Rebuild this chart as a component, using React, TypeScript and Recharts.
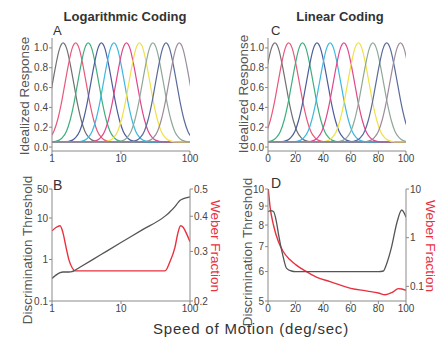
import React from 'react';
import { LineChart, Line, XAxis, YAxis } from 'recharts';

// tuning curve peaks (deg/sec)
const logCenters = [1.45, 2.2, 3.35, 5.2, 7.9, 12, 18.5, 29, 45, 70];
const linCenters = [5, 15, 25, 35.5, 45, 55, 65.5, 76, 86, 96];
const curveColors = [
  '#707070', '#e8587c', '#3fae7e', '#4d5c9c', '#3cb8e0',
  '#e0478c', '#f0e04a', '#8fa898', '#5a6a9c', '#9c8c9c',
];
// one tuning curve, offsets in widths from its peak
const profileOffsets = [-30, -3.5, -2.8, -2.5, -2.1, -1.75, -1.4, -1.05, -0.7, -0.35, 0, 0.35, 0.7, 1.05, 1.4, 1.75, 2.1, 2.5, 2.8, 3.5, 30];
const profileResponse = [0.05, 0.052, 0.07, 0.094, 0.16, 0.27, 0.43, 0.63, 0.83, 0.99, 1.05, 0.99, 0.83, 0.63, 0.43, 0.27, 0.16, 0.094, 0.07, 0.052, 0.05];
const LOG_WIDTH = 0.15; // decades
const LIN_WIDTH = 7.6; // deg/sec

// panel B (log coding)
const speedsB = [1, 1.14, 1.31, 1.44, 1.6, 1.76, 1.95, 2.15, 2.5, 5, 10, 20, 43.5, 51, 60.5, 67, 73, 80, 90, 100];
const weberB = [0.355, 0.365, 0.37, 0.35, 0.31, 0.28, 0.263, 0.256, 0.256, 0.256, 0.256, 0.256, 0.256, 0.275, 0.31, 0.35, 0.37, 0.365, 0.345, 0.325];
const thresholdB = [0.35, 0.42, 0.48, 0.5, 0.5, 0.5, 0.51, 0.55, 0.64, 1.28, 2.56, 5.1, 11.1, 14, 18.8, 23.5, 27, 29.2, 31, 32.5];

// panel D (linear coding)
const speedsD = [0, 2, 4, 6, 7.5, 9, 11, 13.5, 17, 20, 40, 60, 80, 83.6, 86, 89.6, 93.3, 96.9, 100];
const thresholdD = [8.69, 8.75, 8.7, 8.2, 7.6, 7.1, 6.57, 6.12, 6.02, 6.0, 6.0, 6.0, 6.0, 6.02, 6.3, 7.0, 8.09, 8.78, 8.4];
const weberSpeedsD = [0.2, 1.5, 4, 7.5, 11, 16, 20, 27, 35, 45, 60, 72, 80, 85, 90, 94.5, 97, 100];
const weberD = [10, 4.3, 1.8, 0.83, 0.52, 0.35, 0.28, 0.207, 0.155, 0.125, 0.091, 0.08, 0.073, 0.067, 0.075, 0.09, 0.088, 0.083];

const FONT = '"Liberation Sans", Arial, sans-serif';
const AXIS = '#8a8a8a';
const INK = '#444';
const RED = '#e8313f';
const tick = { fontSize: 10, fill: INK, fontFamily: FONT };
const line = { stroke: AXIS };

const logCurves = logCenters.map((c) =>
  profileOffsets.map((u, i) => ({ x: c * Math.pow(10, u * LOG_WIDTH), y: profileResponse[i] })),
);
const linCurves = linCenters.map((c) =>
  profileOffsets.map((u, i) => ({ x: c + u * LIN_WIDTH, y: profileResponse[i] })),
);
const dataB = speedsB.map((s, i) => ({ x: s, thr: thresholdB[i], wf: weberB[i] }));
const dataD = speedsD.map((s, i) => ({ x: s, thr: thresholdD[i] }));
const dataDw = weberSpeedsD.map((s, i) => ({ x: s, wf: weberD[i] }));

const respTicks = [0, 0.2, 0.4, 0.6, 0.8, 1.0];

const axisProps = { tickSize: 3, tickMargin: 1, tick, axisLine: line, tickLine: line, allowDataOverflow: true };

function TuningPanel({ curves, log }: { curves: { x: number; y: number }[][]; log: boolean }) {
  return (
    <LineChart width={log ? 220 : 223} height={170} margin={{ top: 38, right: log ? 30 : 37, bottom: 0, left: log ? 22 : 18 }}>
      <XAxis
        type="number"
        dataKey="x"
        scale={log ? 'log' : 'linear'}
        domain={log ? [1, 100] : [0, 100]}
        ticks={log ? [1, 10, 100] : [0, 20, 40, 60, 80, 100]}
        height={19}
        {...axisProps}
      />
      <YAxis
        type="number"
        domain={[-0.04, 1.1]}
        ticks={respTicks}
        tickFormatter={(v: number) => v.toFixed(1)}
        width={30}
        {...axisProps}
      />
      {curves.map((pts, i) => (
        <Line
          key={i}
          data={pts}
          dataKey="y"
          type="monotone"
          stroke={curveColors[i]}
          strokeWidth={1.2}
          dot={false}
          isAnimationActive={false}
        />
      ))}
    </LineChart>
  );
}

export default function App() {
  return (
    <div style={{ position: 'absolute', left: 0, top: 0, width: 443, height: 342, background: '#fff', fontFamily: FONT }}>
      <div style={{ position: 'absolute', left: 0, top: 0 }}>
        <TuningPanel curves={logCurves} log />
      </div>
      <div style={{ position: 'absolute', left: 220, top: 0 }}>
        <TuningPanel curves={linCurves} log={false} />
      </div>

      <div style={{ position: 'absolute', left: 0, top: 170 }}>
        <LineChart width={220} height={150} data={dataB} margin={{ top: 19, right: 2, bottom: 0, left: 22 }}>
          <XAxis type="number" dataKey="x" scale="log" domain={[1, 100]} ticks={[1, 10, 100]} height={19} {...axisProps} />
          <YAxis yAxisId="left" type="number" scale="log" domain={[0.1, 50]} ticks={[0.1, 1, 10, 50]} width={30} {...axisProps} />
          <YAxis
            yAxisId="right"
            orientation="right"
            type="number"
            scale="log"
            domain={[0.2, 0.5]}
            ticks={[0.2, 0.3, 0.4, 0.5]}
            width={28}
            {...axisProps}
          />
          <Line yAxisId="right" dataKey="wf" type="monotone" stroke={RED} strokeWidth={1.4} dot={false} isAnimationActive={false} />
          <Line yAxisId="left" dataKey="thr" type="monotone" stroke="#555" strokeWidth={1.3} dot={false} isAnimationActive={false} />
        </LineChart>
      </div>

      <div style={{ position: 'absolute', left: 220, top: 170 }}>
        <LineChart width={223} height={150} margin={{ top: 19, right: 7, bottom: 0, left: 18 }}>
          <XAxis type="number" dataKey="x" domain={[0, 100]} ticks={[0, 20, 40, 60, 80, 100]} height={19} {...axisProps} />
          <YAxis yAxisId="left" type="number" scale="log" domain={[5, 10]} ticks={[5, 6, 7, 8, 9, 10]} width={30} {...axisProps} />
          <YAxis
            yAxisId="right"
            orientation="right"
            type="number"
            scale="log"
            domain={[0.05, 10]}
            ticks={[0.1, 1, 10]}
            width={30}
            {...axisProps}
          />
          <Line yAxisId="right" data={dataDw} dataKey="wf" type="monotone" stroke={RED} strokeWidth={1.4} dot={false} isAnimationActive={false} />
          <Line yAxisId="left" data={dataD} dataKey="thr" type="monotone" stroke="#555" strokeWidth={1.3} dot={false} isAnimationActive={false} />
        </LineChart>
      </div>

      <svg width={443} height={342} style={{ position: 'absolute', left: 0, top: 0, pointerEvents: 'none' }} fontFamily={FONT}>
        <text x={125} y={21} textAnchor="middle" fontSize={13} fontWeight="bold" fill="#333">Logarithmic Coding</text>
        <text x={340} y={21} textAnchor="middle" fontSize={13} fontWeight="bold" fill="#333">Linear Coding</text>
        <text x={53} y={35} fontSize={13} fill="#333">A</text>
        <text x={271} y={35} fontSize={13} fill="#333">C</text>
        <text x={53} y={190} fontSize={14} fill="#333">B</text>
        <text x={271} y={188} fontSize={14} fill="#333">D</text>
        <text transform="translate(29,96) rotate(-90)" textAnchor="middle" fontSize={13.5} fill="#555">Idealized Response</text>
        <text transform="translate(248,94) rotate(-90)" textAnchor="middle" fontSize={13.5} fill="#555">Idealized Response</text>
        <text transform="translate(32,250) rotate(-90)" textAnchor="middle" fontSize={13.5} fill="#555">Discrimination Threshold</text>
        <text transform="translate(252,252) rotate(-90)" textAnchor="middle" fontSize={13.5} fill="#555">Discrimination Threshold</text>
        <text transform="translate(211,246) rotate(90)" textAnchor="middle" fontSize={13.5} fill={RED}>Weber Fraction</text>
        <text transform="translate(426,246) rotate(90)" textAnchor="middle" fontSize={13.5} fill={RED}>Weber Fraction</text>
        <text x={251} y={334} textAnchor="middle" fontSize={15} letterSpacing={0.8} fill="#333">Speed of Motion (deg/sec)</text>
      </svg>
    </div>
  );
}
